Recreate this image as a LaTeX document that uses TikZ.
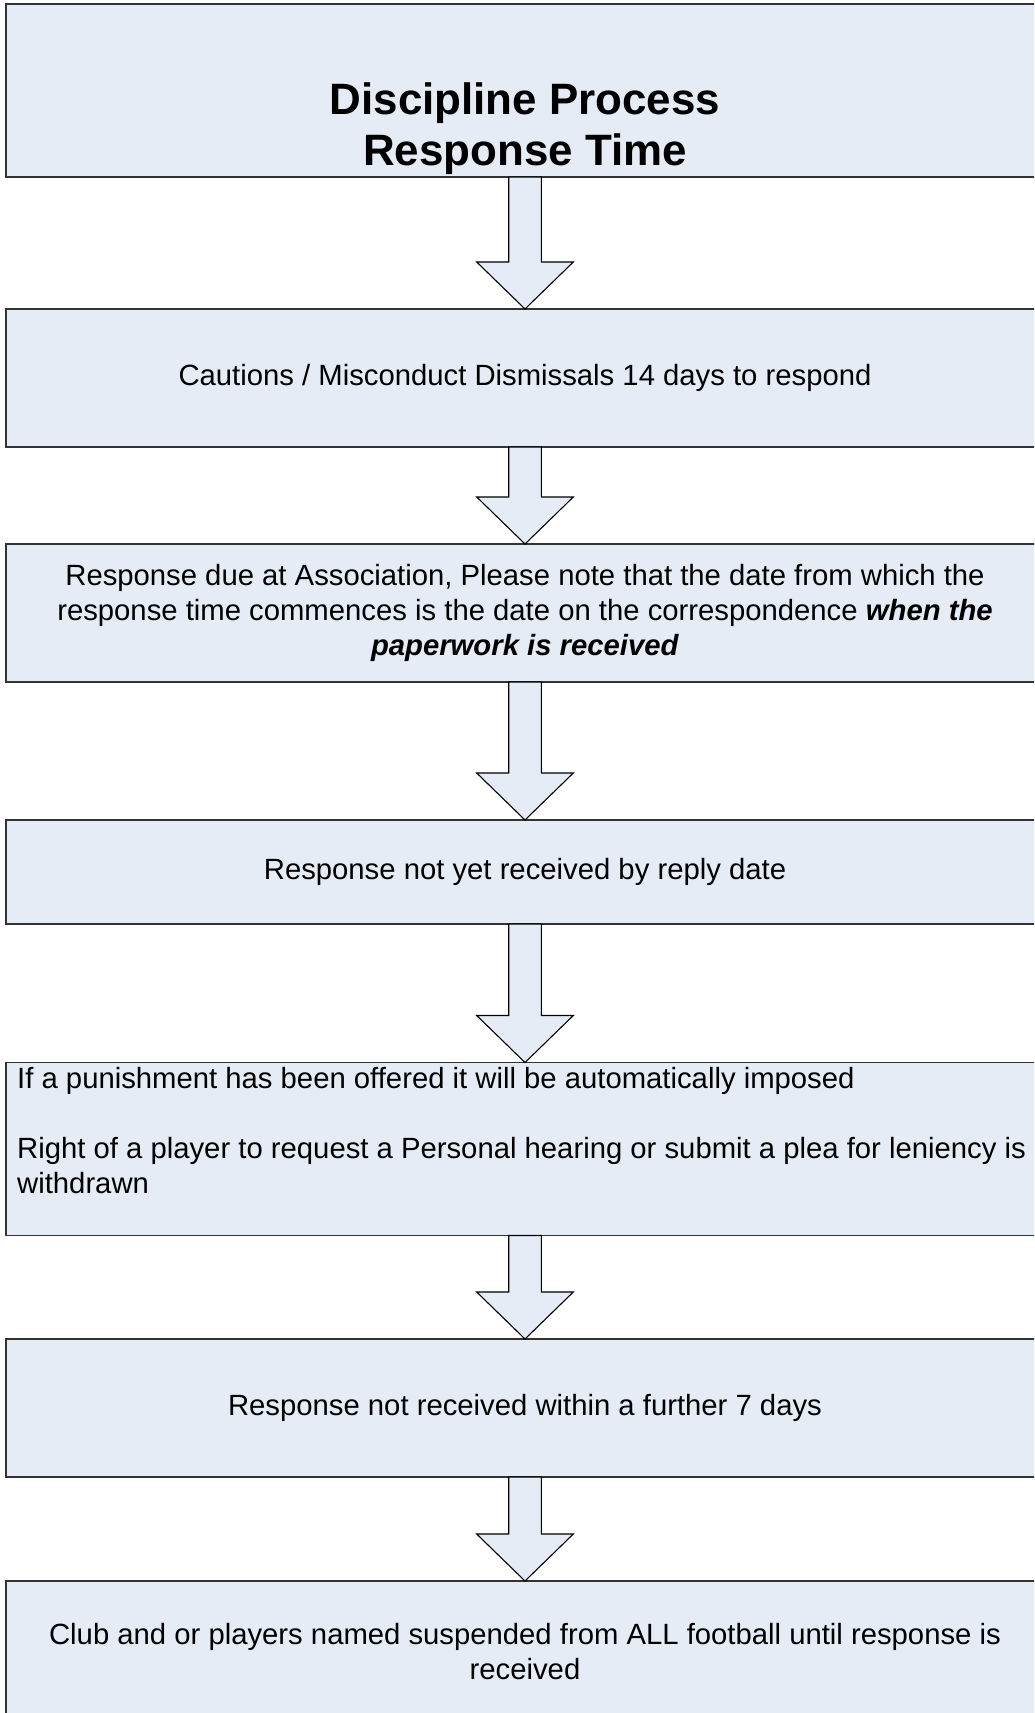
\documentclass[tikz,border=0pt]{standalone}
\usepackage{fontspec}
\setmainfont{Liberation Sans}
\usetikzlibrary{calc,positioning}
\definecolor{boxblue}{RGB}{229,236,246}
\def\px{0.41pt}
\tikzset{
  stepbox/.style={
    shape = rectangle,
    draw = black!80,
    fill = boxblue,
    line width = 0.6pt,
    outer sep = 0pt,
    inner sep = 0pt,
    minimum width = 1038*\px,
    align = center,
    font = \fontsize{12}{14.35}\selectfont
  },
  blockarrow/.style={
    draw = black,
    fill = boxblue,
    line width = 0.45pt,
    line join = miter
  },
  title/.style={
    anchor = base,
    align = center,
    inner sep = 0pt,
    font = \fontsize{18}{21.3}\selectfont\bfseries
  },
  plain/.style={
    anchor = north west,
    align = left,
    inner sep = 0pt,
    font = \fontsize{12}{14.35}\selectfont
  }
}
\begin{document}
\begin{tikzpicture}[x=\px,y=-\px]
    \useasboundingbox (0,0) rectangle (1034,1713);
    \clip (0,0) rectangle (1034,1713);
    % boxes
    \node[stepbox, minimum height=173*\px] (b1) at (525,90.5) {};
    \node[title] (head) at (525,166) {Discipline Process\\Response Time};
    \node[stepbox, minimum height=138*\px] (b2) at (525,378) {Cautions / Misconduct Dismissals 14 days to respond};
    \node[stepbox, minimum height=138*\px] (b3) at (525,613) {Response due at Association, Please note that the date from which the\\
        response time commences is the date on the correspondence \textbf{\textit{when the}}\\
        \textbf{\textit{paperwork is received}}};
    \node[stepbox, minimum height=104*\px] (b4) at (525,872) {Response not yet received by reply date};
    \node[stepbox, minimum height=173*\px] (b5) at (525,1149) {};
    \node[plain] (rule) at ($(b5.north west)+(10.7,4)$) {If a punishment has been offered it will be automatically imposed\\[14.35pt]
        Right of a player to request a Personal hearing or submit a plea for leniency is\\
        withdrawn};
    \node[stepbox, minimum height=138*\px] (b6) at (525,1408) {Response not received within a further 7 days};
    \node[stepbox, minimum height=142*\px] (b7) at (525,1652) {Club and or players named suspended from ALL football until response is\\
        received};
    % arrows
    \foreach \a/\b in {b1/b2, b2/b3, b3/b4, b4/b5, b5/b6, b6/b7}{
        \draw[blockarrow] ($(\a.south)+(-16.3,0)$) -- ($(\b.north)+(-16.3,-47)$)
            -- ($(\b.north)+(-48.3,-47)$) -- (\b.north) -- ($(\b.north)+(48.3,-47)$)
            -- ($(\b.north)+(16.3,-47)$) -- ($(\a.south)+(16.3,0)$) -- cycle;
    }
\end{tikzpicture}
\end{document}
